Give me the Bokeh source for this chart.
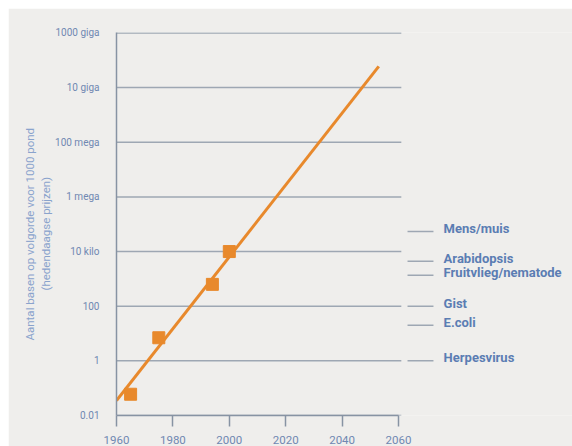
import math
from bokeh.plotting import figure
from bokeh.models import FixedTicker, Title, ColumnDataSource, Range1d, Spacer
from bokeh.layouts import column, row
from bokeh.core.properties import value
from bokeh.embed import file_html
from bokeh.resources import INLINE

# ---- data ----
years_measured = [1965, 1975, 1994, 2000]
bases_per_1000 = [0.06, 7, 630, 1e4]
trend_years = [1960, 2053]
trend_bases = [0.035, 6e10]

year_ticks = [1960, 1980, 2000, 2020, 2040, 2060]
base_ticks = [0.01, 1, 100, 1e4, 1e6, 1e8, 1e10, 1e12]
base_tick_labels = ["0.01", "1", "100", "10 kilo", "1 mega", "100 mega", "10 giga", "1000 giga"]

organisms = ["Mens/muis", "Arabidopsis", "Fruitvlieg/nematode", "Gist", "E.coli", "Herpesvirus"]
organism_levels = [5.4e4, 4.4e3, 1.35e3, 100, 20, 1]

y_title_1 = "Aantal basen op volgorde voor 1000 pond"
y_title_2 = "(hedendaagse prijzen)"

# ---- style ----
BG = "#efeeec"
GRID = "#9ea7b3"
AXIS = "#8793a3"
ORANGE = "#e8892c"
TICK_TXT = "#7088b2"
LABEL_TXT = "#5b7db3"
TITLE_TXT = "#8aa3cc"
FONT = "Roboto"

p = figure(width=564, height=438, output_backend="svg", toolbar_location=None,
           y_axis_type="log",
           x_range=Range1d(1960, 1960 + 456 / 2.82),
           y_range=Range1d(0.01, 1.04e12),
           min_border_left=108, min_border_right=0, min_border_top=24, min_border_bottom=29)
p.background_fill_color = BG
p.border_fill_color = BG
p.outline_line_color = None
p.xgrid.visible = False
p.ygrid.visible = False

# gridlines limited to the year range
p.segment(x0=year_ticks[0], x1=year_ticks[-1] + 1, y0=base_ticks, y1=base_ticks,
          line_color=GRID, line_width=1.5)

# x axis
xa = p.xaxis[0]
xa.ticker = FixedTicker(ticks=year_ticks)
xa.bounds = (year_ticks[0], year_ticks[-1])
xa.axis_line_color = AXIS
xa.axis_line_width = 1.5
xa.major_tick_line_color = AXIS
xa.major_tick_line_width = 1.5
xa.major_tick_in = 0
xa.major_tick_out = 11
xa.minor_tick_line_color = None
xa.major_label_standoff = 9
xa.major_label_text_font = FONT
xa.major_label_text_font_size = "11.5px"
xa.major_label_text_color = TICK_TXT

# y axis
ya = p.yaxis[0]
ya.ticker = FixedTicker(ticks=base_ticks)
ya.major_label_overrides = dict(zip(base_ticks, base_tick_labels))
ya.axis_line_color = AXIS
ya.axis_line_width = 1.5
ya.major_tick_line_color = None
ya.minor_tick_line_color = None
ya.major_label_standoff = 11
ya.major_label_text_font = FONT
ya.major_label_text_font_size = "10px"
ya.major_label_text_color = TICK_TXT

# trend line and measurements
p.line(trend_years, trend_bases, line_color=ORANGE, line_width=3)
p.scatter(years_measured, bases_per_1000, marker="square", size=12,
          fill_color=ORANGE, line_color=ORANGE)

# organism genome-size markers at the right
src = ColumnDataSource(dict(name=organisms, level=organism_levels))
p.segment(x0=2063.2, x1=2072.4, y0="level", y1="level", source=src,
          line_color=GRID, line_width=1.5)
p.text(x=2076, y="level", text="name", source=src, text_baseline="middle",
       y_offset=-3, text_font=value(FONT), text_font_style="bold",
       text_font_size="13px", text_color=LABEL_TXT)

# y axis title: two rotated lines in the left border (offset = distance from frame bottom)
for txt, so, off in [(y_title_2, 0, 125), (y_title_1, 0, 75)]:
    p.add_layout(Title(text=txt, align="left", offset=off, standoff=so,
                       text_font=FONT, text_font_size="11.5px", text_font_style="normal",
                       text_color=TITLE_TXT, text_line_height=0.8), "left")

layout = column(Spacer(height=8), row(Spacer(width=8), p))
open("out.html", "w").write(file_html(layout, INLINE))
